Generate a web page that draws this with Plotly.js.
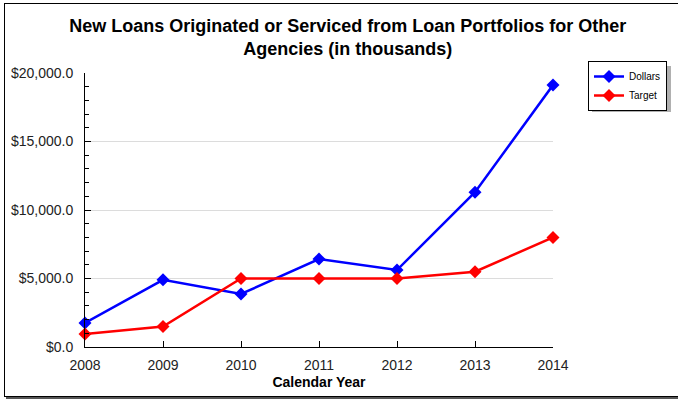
<!DOCTYPE html>
<html><head><meta charset="utf-8">
<script src="https://cdn.plot.ly/plotly-3.0.1.min.js"></script>
<style>
html,body{margin:0;padding:0;background:#fff;}
#wrap{position:relative;width:678px;height:400px;overflow:hidden;background:#fff;}
#chart{position:absolute;left:0;top:0;width:678px;height:400px;}
#frame{position:absolute;left:4px;top:3px;width:700px;height:392px;border:1px solid #000;box-shadow:2px 2px 0 #555;pointer-events:none;}
#lshadow{position:absolute;left:592px;top:66px;width:79px;height:46px;background:#b0b0b0;}
</style></head>
<body><div id="wrap"><div id="lshadow"></div><div id="chart"></div><div id="frame"></div></div>
<script>
const years = [2008, 2009, 2010, 2011, 2012, 2013, 2014];
const dollars = [1750, 4900, 3870, 6420, 5620, 11300, 19120];
const target = [950, 1500, 5000, 5000, 5000, 5500, 8000];
const seriesNames = ['Dollars', 'Target'];

const traces = [
  {x: years, y: dollars, name: seriesNames[0], type: 'scatter', mode: 'lines+markers',
   line: {color: '#0000ff', width: 2.5}, marker: {symbol: 'diamond', size: 10, color: '#0000ff'}, cliponaxis: false},
  {x: years, y: target, name: seriesNames[1], type: 'scatter', mode: 'lines+markers',
   line: {color: '#ff0000', width: 2.5}, marker: {symbol: 'diamond', size: 10, color: '#ff0000'}, cliponaxis: false}
];

const layout = {
  width: 678, height: 400,
  margin: {l: 85, r: 125, t: 73, b: 53},
  paper_bgcolor: 'rgba(0,0,0,0)', plot_bgcolor: 'rgba(0,0,0,0)',
  font: {family: 'Liberation Sans, Arial, sans-serif', size: 12, color: '#222'},
  title: {text: 'New Loans Originated or Serviced from Loan Portfolios for Other<br>Agencies (in thousands)',
          font: {size: 18, color: '#000', weight: 'bold'}, x: 0.513, xref: 'container', xanchor: 'center',
          y: 0.92, yref: 'container', yanchor: 'top'},
  xaxis: {range: [2008, 2014], tickmode: 'linear', dtick: 1, tick0: 2008, showgrid: false, zeroline: false,
          showline: true, linecolor: '#000', linewidth: 1, ticks: 'inside', ticklen: 6, tickcolor: '#000',
          tickfont: {size: 14, color: '#222'}, ticklabelstandoff: 5,
          title: {text: 'Calendar Year', font: {size: 14, color: '#000', weight: 'bold'}, standoff: 5}},
  yaxis: {range: [0, 20000], tickmode: 'linear', dtick: 5000, tick0: 0, tickprefix: '$', tickformat: ',.1f',
          showgrid: true, gridcolor: '#dcdcdc', zeroline: false, showline: true, linecolor: '#000', linewidth: 1,
          ticks: 'inside', ticklen: 6, tickcolor: '#000', tickfont: {size: 14, color: '#222'}, ticklabelstandoff: 8,
          minor: {dtick: 1000, ticks: 'inside', ticklen: 4, tickcolor: '#000', showgrid: false}},
  showlegend: true,
  legend: {x: 588/678, xref: 'container', y: (400-61)/400, yref: 'container', xanchor: 'left', yanchor: 'top',
           bgcolor: '#fff', bordercolor: '#000', borderwidth: 1, font: {size: 10, color: '#000'},
           tracegroupgap: 0}
};

Plotly.newPlot('chart', traces, layout, {displayModeBar: false, staticPlot: true});
</script></body></html>
